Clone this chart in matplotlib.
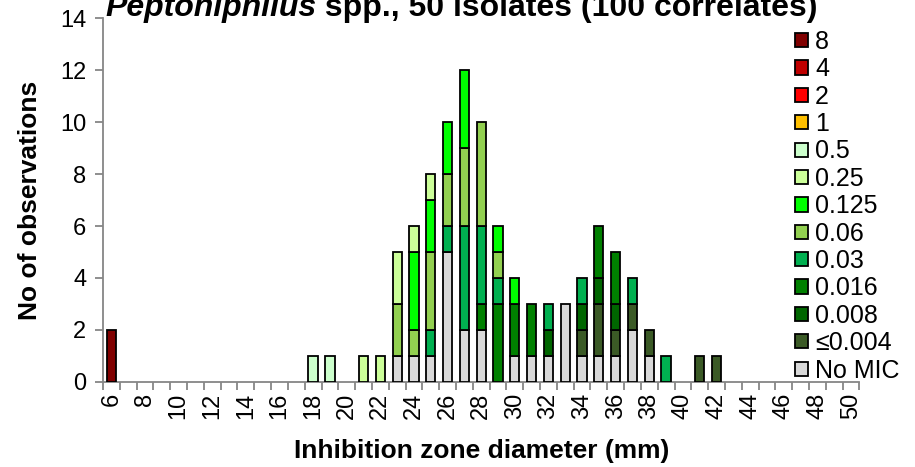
import matplotlib
matplotlib.use("Agg")
import matplotlib.pyplot as plt
import numpy as np
from matplotlib.patches import Patch

plt.rcParams['font.family'] = ['Liberation Sans', 'DejaVu Sans']

diameters = list(range(6, 51))
mic_labels = ['No MIC', '≤0.004', '0.008', '0.016', '0.03', '0.06', '0.125',
              '0.25', '0.5', '1', '2', '4', '8']
mic_colors = ['#d9d9d9', '#3b5a26', '#006600', '#008000', '#00b050', '#92d050',
              '#00ff00', '#ccff99', '#ccffcc', '#ffc000', '#ff0000', '#c00000', '#800000']

no_mic = {23: 1, 24: 1, 25: 1, 26: 5, 27: 2, 28: 2, 30: 1, 31: 1, 32: 1, 33: 3,
          34: 1, 35: 1, 36: 1, 37: 2, 38: 1}
mic_le0004 = {34: 1, 35: 2, 36: 1, 37: 1, 38: 1, 41: 1, 42: 1}
mic_0008 = {32: 1, 34: 1, 35: 1, 36: 1}
mic_0016 = {28: 1, 29: 3, 30: 2, 31: 2, 35: 2, 36: 2}
mic_003 = {25: 1, 26: 1, 27: 4, 28: 3, 29: 1, 32: 1, 34: 1, 37: 1, 39: 1}
mic_006 = {23: 2, 24: 1, 25: 3, 26: 2, 27: 3, 28: 4, 29: 1}
mic_0125 = {24: 3, 25: 2, 26: 2, 27: 3, 29: 1, 30: 1}
mic_025 = {21: 1, 22: 1, 23: 2, 24: 1, 25: 1}
mic_05 = {18: 1, 19: 1}
mic_1 = {}
mic_2 = {}
mic_4 = {}
mic_8 = {6: 2}

series = [no_mic, mic_le0004, mic_0008, mic_0016, mic_003, mic_006, mic_0125,
          mic_025, mic_05, mic_1, mic_2, mic_4, mic_8]

fig = plt.figure(figsize=(9.15, 4.67), dpi=100)
ax = fig.add_axes([103 / 915, 85 / 467, (859.4 - 103) / 915, (382 - 18) / 467])

x = np.array(diameters)
bottom = np.zeros(len(x))
for lab, col, s in zip(mic_labels, mic_colors, series):
    vals = np.array([s.get(d, 0) for d in diameters], dtype=float)
    mask = vals > 0
    if mask.any():
        ax.bar(x[mask], vals[mask], bottom=bottom[mask], width=0.55, color=col,
               edgecolor='black', linewidth=1.3, zorder=3)
    bottom += vals

ax.set_xlim(5.5, 50.5)
ax.set_ylim(0, 14)
axis_col = '#868686'
for sp in ['top', 'right']:
    ax.spines[sp].set_visible(False)
for sp in ['left', 'bottom']:
    ax.spines[sp].set_color(axis_col)
    ax.spines[sp].set_linewidth(1.3)

ax.set_xticks(range(6, 51, 2))
ax.set_xticklabels([str(v) for v in range(6, 51, 2)], rotation=90, fontsize=17)
ax.set_xticks(np.arange(5.5, 51, 1), minor=True)
ax.tick_params(axis='x', which='major', length=0, pad=8)
ax.tick_params(axis='x', which='minor', length=6, width=1.3, color=axis_col, direction='out')
ax.set_yticks(range(0, 15, 2))
ax.tick_params(axis='y', length=6, width=1.3, color=axis_col, labelsize=17, pad=6)

ax.set_ylabel('No of observations', fontsize=19, fontweight='bold', labelpad=13)
ax.set_xlabel('Inhibition zone diameter (mm)', fontsize=19, fontweight='bold', labelpad=14)

t1 = fig.text(105 / 915, 1 - 15.7 / 467, 'Peptoniphilus', fontsize=23, fontweight='bold',
              fontstyle='italic', ha='left', va='baseline')
fig.canvas.draw()
ax.annotate(' spp., 50 isolates (100 correlates)', xy=(1, 0), xycoords=t1,
            fontsize=23, fontweight='bold', ha='left', va='bottom')

handles = [Patch(facecolor=c, edgecolor='black', linewidth=1.3) for c in mic_colors][::-1]
labels = mic_labels[::-1]
fig.legend(handles, labels, loc='upper left', bbox_to_anchor=(795 / 915, 1 - 30 / 467),
           frameon=False, fontsize=18, handlelength=0.5, handleheight=0.5,
           handletextpad=0.3, labelspacing=0.135, borderpad=0, borderaxespad=0)

fig.savefig('out.png', dpi=100)
